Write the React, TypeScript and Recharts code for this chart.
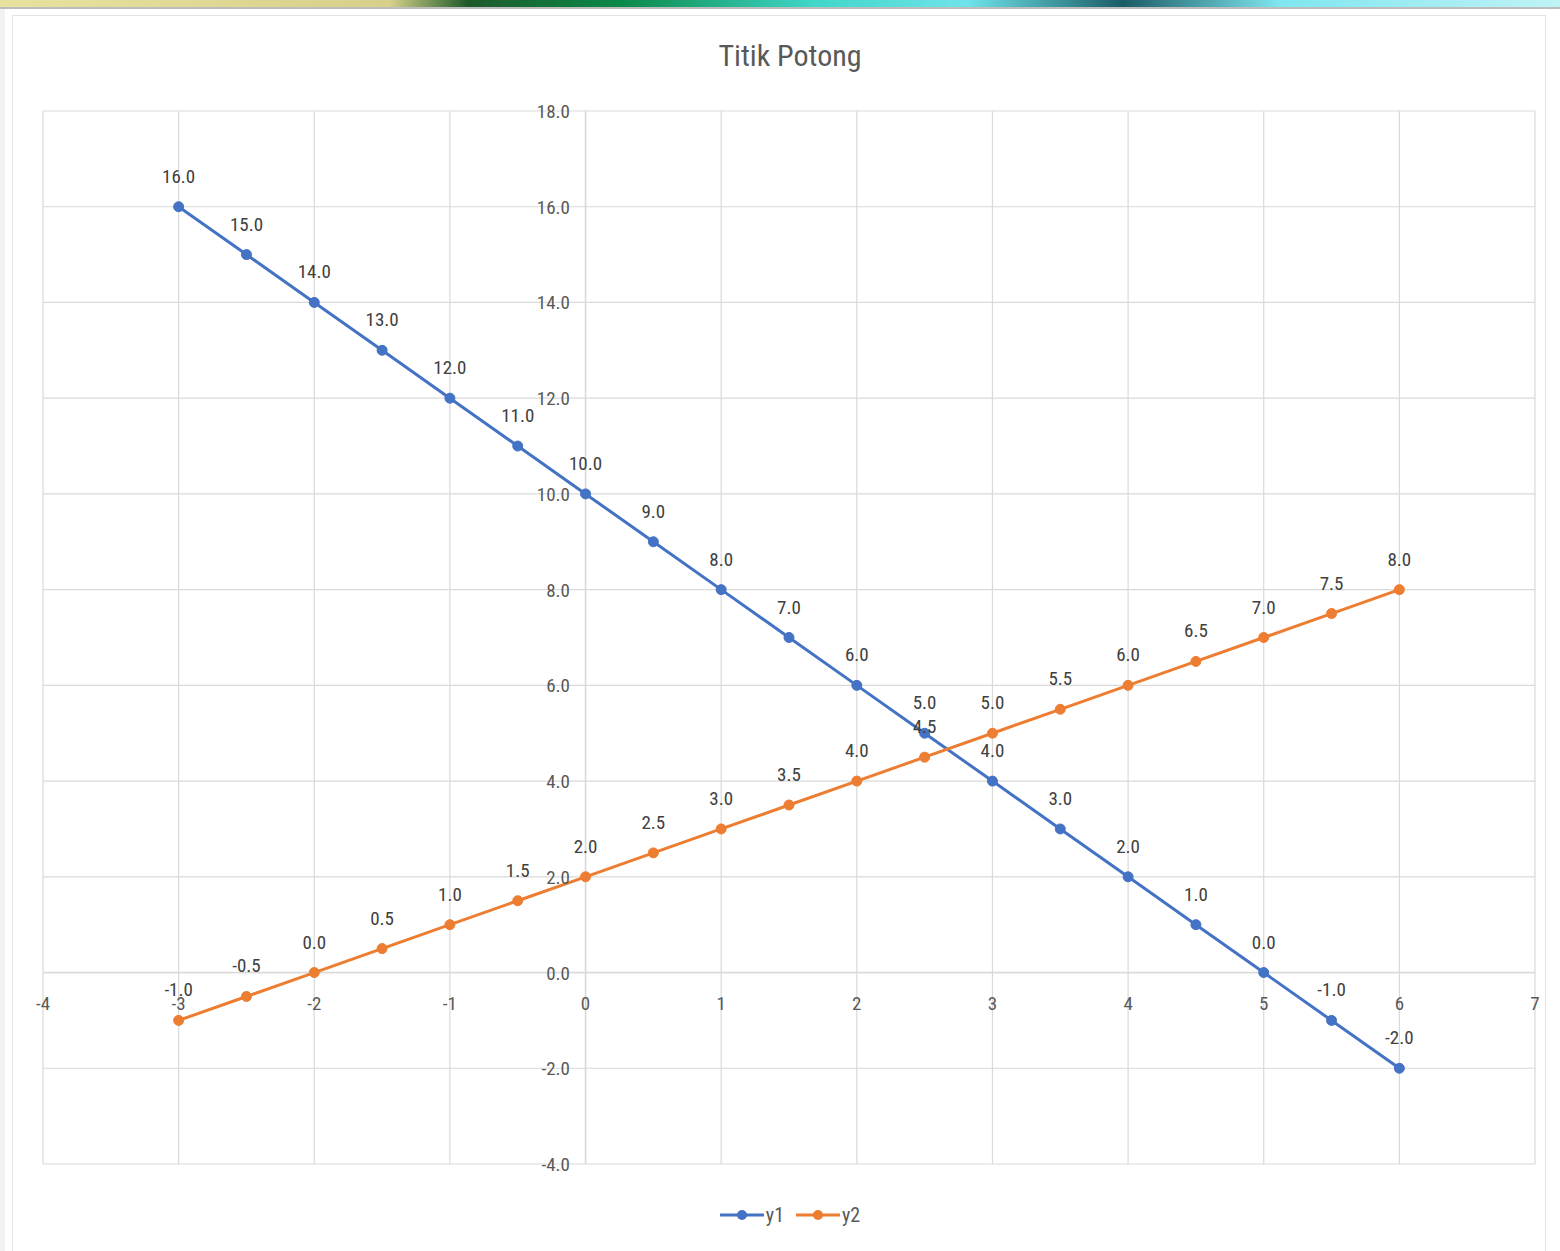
import React from "react"
import { LineChart, Line, XAxis, YAxis, CartesianGrid, ReferenceLine, LabelList } from "recharts"

const xValues = [-3, -2.5, -2, -1.5, -1, -0.5, 0, 0.5, 1, 1.5, 2, 2.5, 3, 3.5, 4, 4.5, 5, 5.5, 6]
const y1Values = [16, 15, 14, 13, 12, 11, 10, 9, 8, 7, 6, 5, 4, 3, 2, 1, 0, -1, -2]
const y2Values = [-1, -0.5, 0, 0.5, 1, 1.5, 2, 2.5, 3, 3.5, 4, 4.5, 5, 5.5, 6, 6.5, 7, 7.5, 8]

const xTicks = [-4, -3, -2, -1, 0, 1, 2, 3, 4, 5, 6, 7]
const yTicks = [-4, -2, 0, 2, 4, 6, 8, 10, 12, 14, 16, 18]

const data = xValues.map((x, i) => ({ x, y1: y1Values[i], y2: y2Values[i] }))

const W = 1560
const H = 1251
const M = { top: 111, left: 42, right: 25, bottom: 86 }
const plotW = W - M.left - M.right
const plotH = H - M.top - M.bottom
// pixel position of the origin, where the axes cross
const X0 = M.left + 1 + (plotW * (0 - -4)) / 11
const Y0 = M.top + (plotH * (18 - 0)) / 22

const FONT = "'Liberation Sans Narrow', 'Roboto Condensed', Roboto, sans-serif"
const TEXT = "#595959"
const GRID = "#d9d9d9"
const BLUE = "#4472c4"
const ORANGE = "#ed7d31"

const XTick = (props: any) => (
  <text x={props.x} y={Y0 + 37} textAnchor="middle" fill={TEXT} fontSize={19} fontFamily={FONT}>
    {props.payload.value}
  </text>
)

const YTick = (props: any) => (
  <text x={X0 - 16} y={props.y + 7} textAnchor="end" fill={TEXT} fontSize={19} fontFamily={FONT}>
    {Number(props.payload.value).toFixed(1)}
  </text>
)

const PointLabel = (props: any) => (
  <text x={props.x} y={props.y - 24} textAnchor="middle" fill="#404040" fontSize={19} fontFamily={FONT}>
    {Number(props.value).toFixed(1)}
  </text>
)

const LegendItem = ({ color, name }: { color: string; name: string }) => (
  <span style={{ display: "inline-flex", alignItems: "center", marginRight: 12 }}>
    <svg width={44} height={12}>
      <line x1={0} y1={6} x2={44} y2={6} stroke={color} strokeWidth={3} />
      <circle cx={22} cy={6} r={5} fill={color} />
    </svg>
    <span style={{ marginLeft: 2 }}>{name}</span>
  </span>
)

export default function App() {
  return (
    <div style={{ position: "absolute", left: 0, top: 0, width: W, height: H, background: "#fff", overflow: "hidden" }}>
      {/* slide banner strip */}
      <div
        style={{
          position: "absolute", left: 0, top: 0, width: W, height: 7,
          background: "linear-gradient(90deg, #e8e2a0 0%, #d6d08a 25%, #1d5a2a 30%, #0b8a4a 40%, #3fd6c8 52%, #6fe3ea 62%, #1a5c66 72%, #7fe6ef 82%, #bff3f6 100%)",
        }}
      />
      <div style={{ position: "absolute", left: 0, top: 7, width: W, height: 2, background: "#bdbdbd" }} />
      <div style={{ position: "absolute", left: 0, top: 9, width: 5, height: H - 9, background: "#f2f2f2" }} />
      <div style={{ position: "absolute", left: 12, top: 15, width: 1534, height: H, border: "1px solid #e3e3e3", boxSizing: "border-box" }} />

      <div style={{ position: "absolute", left: 0, top: 38, width: W, textAlign: "center", fontFamily: FONT, fontSize: 30, color: TEXT, paddingLeft: 20, boxSizing: "border-box" }}>
        Titik Potong
      </div>

      <div style={{ position: "absolute", left: 0, top: 0 }}>
        <LineChart width={W} height={H} data={data} margin={M}>
          <CartesianGrid stroke={GRID} strokeWidth={1.2} />
          <XAxis
            type="number"
            dataKey="x"
            domain={[-4, 7]}
            ticks={xTicks}
            axisLine={false}
            tickLine={false}
            tick={<XTick />}
            height={1}
          />
          <YAxis
            type="number"
            domain={[-4, 18]}
            ticks={yTicks}
            axisLine={false}
            tickLine={false}
            tick={<YTick />}
            width={1}
          />
          <ReferenceLine x={0} stroke={GRID} strokeWidth={1.5} />
          <ReferenceLine y={0} stroke={GRID} strokeWidth={1.5} />
          <Line dataKey="y1" stroke={BLUE} strokeWidth={3} dot={{ r: 5, fill: BLUE, stroke: BLUE, strokeWidth: 1 }} isAnimationActive={false}>
            <LabelList dataKey="y1" content={<PointLabel />} />
          </Line>
          <Line dataKey="y2" stroke={ORANGE} strokeWidth={3} dot={{ r: 5, fill: ORANGE, stroke: ORANGE, strokeWidth: 1 }} isAnimationActive={false}>
            <LabelList dataKey="y2" content={<PointLabel />} />
          </Line>
        </LineChart>
      </div>

      <div style={{ position: "absolute", left: 0, top: 1202, width: W, textAlign: "center", fontFamily: FONT, fontSize: 20, color: TEXT, paddingLeft: 32, boxSizing: "border-box" }}>
        <LegendItem color={BLUE} name="y1" />
        <LegendItem color={ORANGE} name="y2" />
      </div>
    </div>
  )
}
